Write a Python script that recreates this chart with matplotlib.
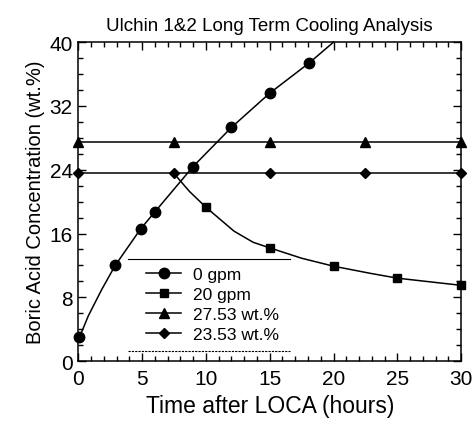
import numpy as np
import matplotlib
matplotlib.use("Agg")
import matplotlib.pyplot as plt
from matplotlib.ticker import MultipleLocator

plt.rcParams['font.family'] = ['Liberation Sans', 'DejaVu Sans']

# 0 gpm : 붕산 농도 증가
t_0gpm = [0.1, 0.8, 1.85, 2.9, 4.9, 6.0, 9.0, 12.0, 15.0, 18.1, 20.0]
c_0gpm = [3.0, 5.7, 9.0, 12.0, 16.6, 18.7, 24.4, 29.3, 33.6, 37.4, 40.0]
mark_0gpm = [0, 3, 4, 5, 6, 7, 8, 9]

# 20 gpm
t_20gpm = [7.5, 8.7, 10.0, 12.2, 13.7, 15.0, 17.5, 20.0, 22.9, 25.0, 30.0]
c_20gpm = [23.53, 21.3, 19.3, 16.3, 14.9, 14.2, 12.9, 11.9, 11.0, 10.4, 9.5]
mark_20gpm = [2, 5, 7, 9, 10]

# limits
t_lim = [0, 7.5, 15, 22.5, 30]
c_2753 = [27.53] * 5
c_2353 = [23.53] * 5

labels = ["0 gpm", "20 gpm", "27.53 wt.%", "23.53 wt.%"]

fig = plt.figure(figsize=(4.74, 4.27), dpi=100)
ax = fig.add_axes([0.165, 0.152, 0.808, 0.747])

ax.plot(t_0gpm, c_0gpm, "k-", marker="o", markersize=7.5, markevery=mark_0gpm, lw=1.1, label=labels[0], clip_on=False)
ax.plot(t_20gpm, c_20gpm, "k-", marker="s", markersize=6, markevery=mark_20gpm, lw=1.1, label=labels[1], clip_on=False)
ax.plot(t_lim, c_2753, "k-", marker="^", markersize=6.5, lw=1.1, label=labels[2], clip_on=False)
ax.plot(t_lim, c_2353, "k-", marker="D", markersize=5.5, lw=1.1, label=labels[3], clip_on=False)

ax.set_xlim(0, 30)
ax.set_ylim(0, 40)
ax.xaxis.set_major_locator(MultipleLocator(5))
ax.xaxis.set_minor_locator(MultipleLocator(1))
ax.yaxis.set_major_locator(MultipleLocator(8))
ax.yaxis.set_minor_locator(MultipleLocator(2))
ax.tick_params(which="both", direction="in", top=True, right=True, width=1, labelsize=15)
ax.tick_params(which="major", length=6)
ax.tick_params(which="minor", length=3.5)
ax.tick_params(axis="x", pad=6)
ax.tick_params(axis="y", pad=4)
for s in ax.spines.values():
    s.set_linewidth(1.1)

ax.set_xlabel("Time after LOCA (hours)", fontsize=16.5, labelpad=4)
ax.set_ylabel("Boric Acid Concentration (wt.%)", fontsize=14.5, labelpad=3)
ax.set_title("Ulchin 1&2 Long Term Cooling Analysis", fontsize=13.5, pad=9)

leg = ax.legend(loc="upper left", bbox_to_anchor=(0.178, 0.295), frameon=False, fontsize=12.5,
                borderpad=0, borderaxespad=0, handlelength=2.0, handletextpad=0.7, labelspacing=0.28)
# 범례 위/아래 선
ax.plot([0.131, 0.554], [0.320, 0.320], "k-", lw=0.8, transform=ax.transAxes)
ax.plot([0.131, 0.554], [0.031, 0.031], "k--", lw=0.8, dashes=(2, 1), transform=ax.transAxes)

fig.savefig("out.png", dpi=100)
